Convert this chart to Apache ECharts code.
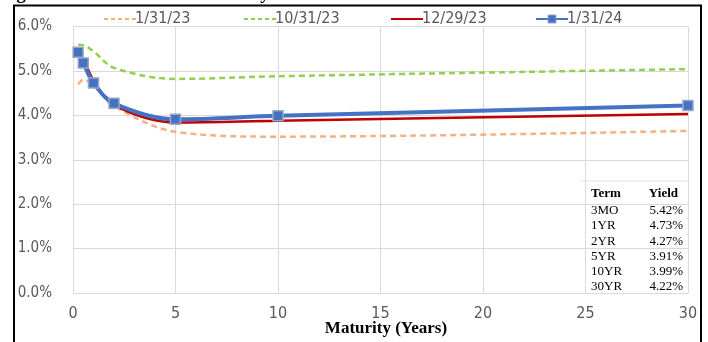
<!DOCTYPE html>
<html><head><meta charset="utf-8">
<script src="https://cdn.jsdelivr.net/npm/echarts@6/dist/echarts.min.js"></script>
<style>html,body{margin:0;padding:0;background:#fff}#c{width:708px;height:342px}</style>
</head><body><div id="c"></div>
<script>
const maturities = [0.25, 0.5, 1, 2, 5, 10, 30];
const seriesNames = ['1/31/23', '10/31/23', '12/29/23', '1/31/24'];
const y_013123 = [4.70, 4.80, 4.68, 4.21, 3.63, 3.52, 3.65];
const y_103123 = [5.59, 5.58, 5.44, 5.07, 4.82, 4.88, 5.04];
const y_122923 = [5.40, 5.26, 4.79, 4.23, 3.84, 3.88, 4.03];
const y_013124 = [5.42, 5.18, 4.73, 4.27, 3.91, 3.99, 4.22];
const xTicks = [0, 5, 10, 15, 20, 25, 30];
const yTicks = [0, 1, 2, 3, 4, 5, 6];
const tableTerms = ['3MO', '1YR', '2YR', '5YR', '10YR', '30YR'];
const tableYields = ['5.42%', '4.73%', '4.27%', '3.91%', '3.99%', '4.22%'];
const titleText = 'Figure 1: Historical U.S. Treasury Yield Curve';
const xAxisTitle = 'Maturity (Years)';

const pairs = ys => maturities.map((m, i) => [m, ys[i]]);
const AX = '"Liberation Sans Narrow","DejaVu Sans Condensed",sans-serif';
const SERIF = '"Liberation Serif","Times New Roman",serif';
const colors = ['#F4B183', '#92D050', '#C00000', '#4472C4'];
const legendLeft = [98, 238, 385, 530];

const chart = echarts.init(document.getElementById('c'), null, {renderer: 'canvas'});

const tableGraphics = [];
tableGraphics.push({type: 'text', left: 591, top: 187, style: {text: 'Term', font: 'bold 13px ' + SERIF, fill: '#000'}});
tableGraphics.push({type: 'text', right: 708 - 678, top: 187, style: {text: 'Yield', font: 'bold 13px ' + SERIF, fill: '#000'}});
tableTerms.forEach((t, i) => {
  tableGraphics.push({type: 'text', left: 591, top: 204 + i * 15.3, style: {text: t, font: '13px ' + SERIF, fill: '#000'}});
  tableGraphics.push({type: 'text', right: 708 - 683, top: 204 + i * 15.3, style: {text: tableYields[i], font: '13px ' + SERIF, fill: '#000'}});
});

const lineSeries = [y_013123, y_103123, y_122923, y_013124].map((ys, i) => {
  const s = {
    name: seriesNames[i], type: 'line', smooth: 0.35, data: pairs(ys),
    z: 2 + i,
    lineStyle: {color: colors[i], width: i === 3 ? 4 : 2.5, type: (i < 2) ? [6, 4] : 'solid'},
    itemStyle: {color: colors[i]},
    symbol: 'none', showSymbol: false
  };
  if (i === 3) {
    s.symbol = 'rect'; s.showSymbol = true; s.symbolSize = 10;
    s.itemStyle = {color: colors[3], borderColor: '#9AA6BE', borderWidth: 1.5};
  }
  return s;
});

chart.setOption({
  animation: false,
  backgroundColor: '#fff',
  grid: {left: 73, right: 20, top: 26.5, bottom: 49},
  legend: seriesNames.map((n, i) => ({
    data: [n], left: legendLeft[i], top: 6, itemWidth: 32, itemHeight: i === 3 ? 10 : 12, itemGap: 4,
    itemStyle: i === 3 ? {borderColor: '#9AA6BE', borderWidth: 1} : {opacity: 0},
    lineStyle: i < 2 ? {type: [4, 3]} : {},
    textStyle: {color: '#595959', fontSize: 16, fontFamily: AX, padding: [0, 0, 0, -6]}
  })),
  xAxis: {
    type: 'value', min: 0, max: 30, interval: 5,
    axisLine: {show: false}, axisTick: {show: false},
    axisLabel: {color: '#595959', fontSize: 16, fontFamily: AX, margin: 13},
    splitLine: {show: true, lineStyle: {color: '#D9D9D9', width: 1}}
  },
  yAxis: {
    type: 'value', min: 0, max: 6, interval: 1,
    axisLine: {show: false}, axisTick: {show: false},
    axisLabel: {color: '#595959', fontSize: 15, fontFamily: AX, margin: 21,
      formatter: v => v.toFixed(1) + '%'},
    splitLine: {show: true, lineStyle: {color: '#D9D9D9', width: 1}}
  },
  series: lineSeries,
  graphic: [
    {type: 'rect', shape: {x: 14, y: 5.5, width: 687, height: 400}, style: {fill: 'none', stroke: '#000', lineWidth: 2}, z: 100},
    {type: 'text', x: 0, y: 4, style: {text: titleText, font: 'bold 18.6px ' + SERIF, fill: '#000', textVerticalAlign: 'bottom'}, z: 99},
    {type: 'text', x: 386, y: 320, style: {text: xAxisTitle, font: 'bold 17px ' + SERIF, fill: '#000', textAlign: 'center'}, z: 100},
    {type: 'line', shape: {x1: 580, y1: 181, x2: 688, y2: 181}, style: {stroke: '#E4E4E4', lineWidth: 1}}
  ].concat(tableGraphics)
});
</script></body></html>
